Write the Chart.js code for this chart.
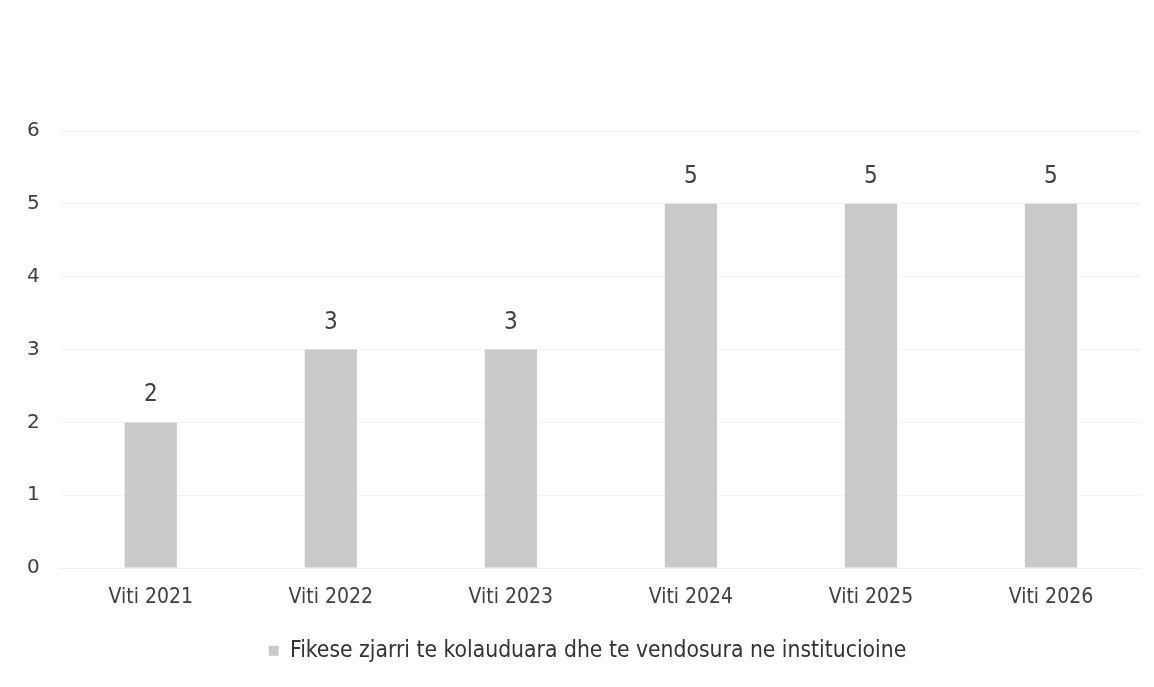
<!DOCTYPE html>
<html>
<head>
<meta charset="utf-8">
<script src="https://cdn.jsdelivr.net/npm/chart.js@4"></script>
<style>
html,body{margin:0;padding:0;background:#fff;}
#wrap{width:1154px;height:687px;}
</style>
</head>
<body>
<div id="wrap"><canvas id="c" width="1154" height="687"></canvas></div>
<script>
const categories = ["Viti 2021","Viti 2022","Viti 2023","Viti 2024","Viti 2025","Viti 2026"];
const values = [2,3,3,5,5,5];
const seriesName = "Fikese zjarri te kolauduara dhe te vendosura ne institucioine";
const yTicks = [0,1,2,3,4,5,6];

const COND = "'DejaVu Sans Condensed', 'DejaVu Sans', sans-serif";
const SANS = "'DejaVu Sans', sans-serif";

const valueLabels = {
  id: 'valueLabels',
  afterDatasetsDraw(chart) {
    const ctx = chart.ctx;
    const meta = chart.getDatasetMeta(0);
    ctx.save();
    ctx.font = "24px " + COND;
    ctx.fillStyle = "#404040";
    ctx.textAlign = "center";
    ctx.textBaseline = "alphabetic";
    meta.data.forEach((bar, i) => {
      ctx.fillText(String(values[i]), bar.x, bar.y - 21);
    });
    ctx.restore();
  }
};

const legendShift = {
  id: 'legendShift',
  afterLayout(chart) {
    if (chart.legend) {
      chart.legend.left += 14;
      chart.legend.right += 14;
    }
  }
};

new Chart(document.getElementById('c'), {
  type: 'bar',
  data: {
    labels: categories,
    datasets: [{
      label: seriesName,
      data: values,
      backgroundColor: '#c9c9c9',
      borderWidth: 0,
      barPercentage: 0.29,
      categoryPercentage: 1.0
    }]
  },
  options: {
    responsive: false,
    animation: false,
    layout: { padding: { top: 131, left: 6, right: 13, bottom: 15 } },
    plugins: {
      legend: {
        position: 'bottom',
        labels: {
          font: { size: 22.7, family: COND },
          color: '#333',
          boxWidth: 10,
          boxHeight: 10,
          padding: 20
        }
      },
      tooltip: { enabled: false }
    },
    scales: {
      x: {
        grid: { display: false },
        border: { display: true, color: '#f0f0f0' },
        ticks: { font: { size: 21, family: COND }, color: '#404040', padding: 9 }
      },
      y: {
        min: 0, max: 6,
        afterBuildTicks(axis) { axis.ticks = yTicks.map(v => ({ value: v })); },
        grid: { color: '#f3f3f3', drawTicks: false },
        border: { display: false },
        ticks: { font: { size: 20, family: SANS }, color: '#404040', padding: 21 }
      }
    }
  },
  plugins: [valueLabels, legendShift]
});
</script>
</body>
</html>
